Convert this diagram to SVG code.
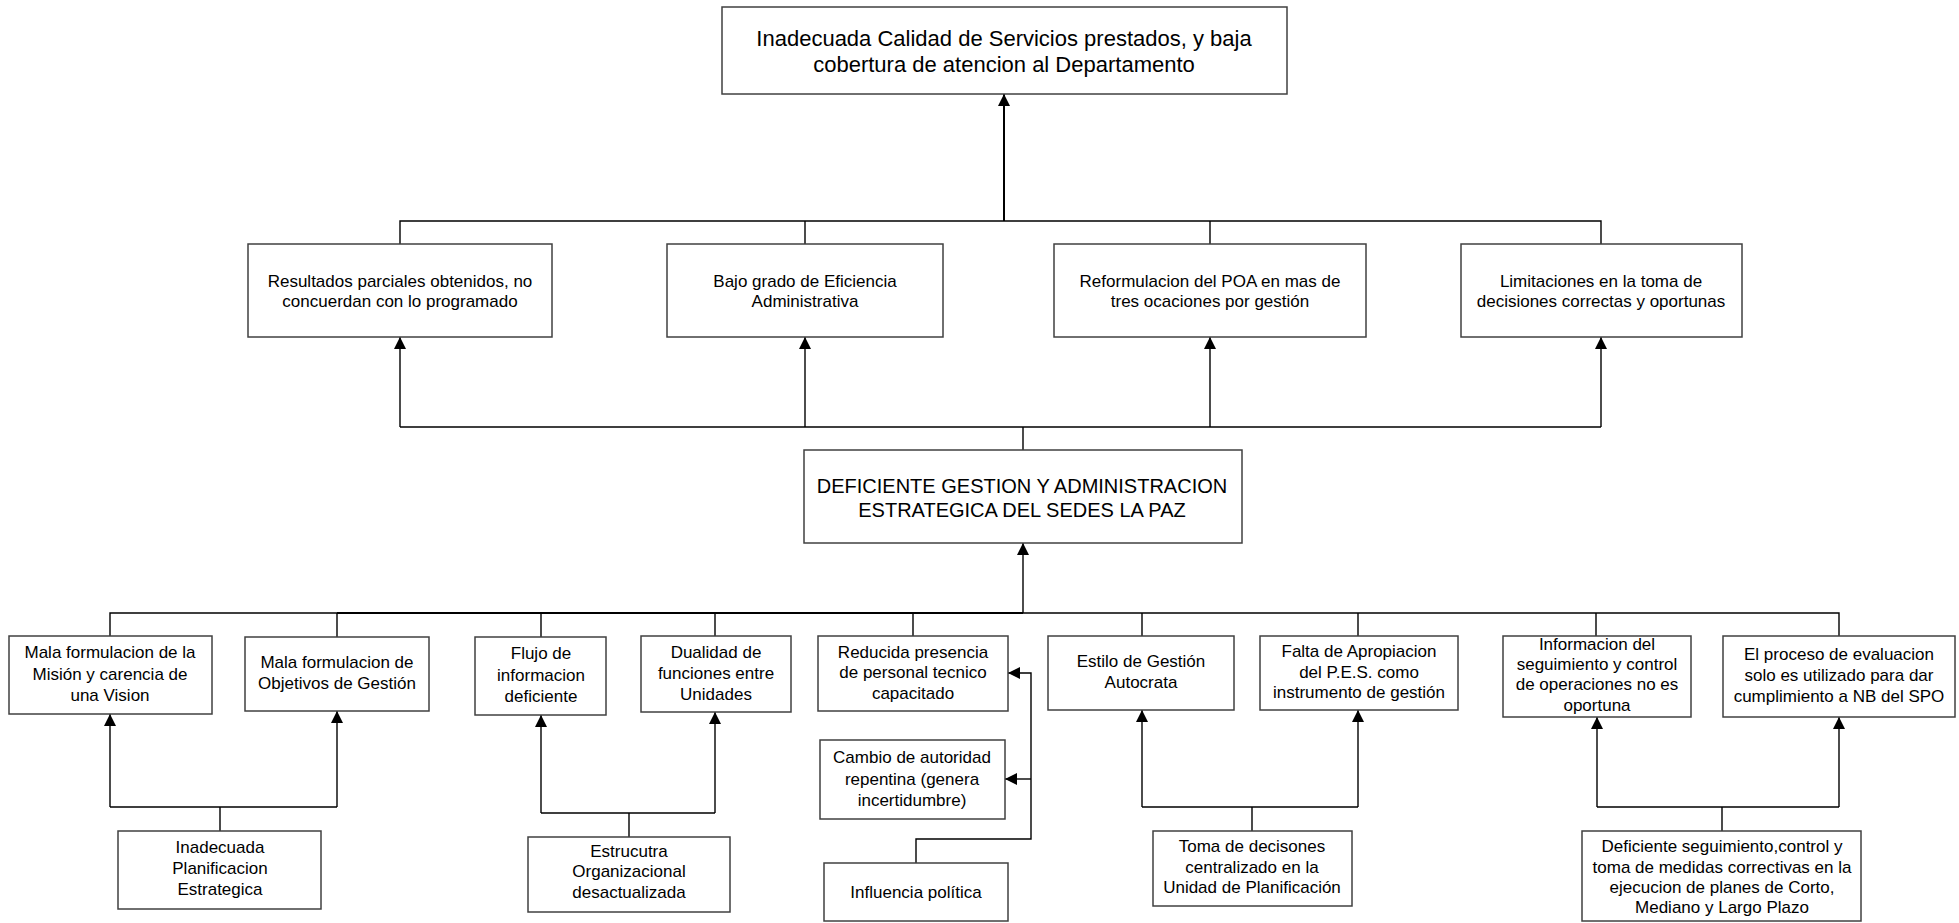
<svg xmlns="http://www.w3.org/2000/svg" width="1959" height="923" viewBox="0 0 1959 923">
<style>
.box{fill:#fff;stroke:#404040;stroke-width:1.5}
.ln{fill:none;stroke:#000;stroke-width:1.4}
.ar{fill:none;stroke:#000;stroke-width:1.4;marker-end:url(#ah)}
text{font-family:"Liberation Sans",Arial,sans-serif;fill:#000;text-anchor:middle}
.t1{font-size:22px}
.t2{font-size:20px}
.t3{font-size:17px}
</style>
<defs>
<marker id="ah" viewBox="0 0 12 12" refX="12" refY="6" markerWidth="12" markerHeight="12" markerUnits="userSpaceOnUse" orient="auto">
<path d="M0,0 L12,6 L0,12 z" fill="#000"/>
</marker>
</defs>
<rect width="1959" height="923" fill="#fff"/>
<g id="connectors">
<path class="ln" d="M400,244 V221 H1601 V244 M805,221 V244 M1210,221 V244"/>
<path class="ar" d="M1004,221 V94" style="stroke-width:2"/>
<path class="ln" d="M1023,450 V427 M400,427 H1601"/>
<path class="ar" d="M400,427 V337"/>
<path class="ar" d="M805,427 V337"/>
<path class="ar" d="M1210,427 V337"/>
<path class="ar" d="M1601,427 V337"/>
<path class="ln" d="M110,636 V613 H1839 V636 M337,613 V637 M541,613 V637 M715,613 V636 M913,613 V636 M1142,613 V636 M1358,613 V636 M1596,613 V636"/>
<path class="ln" d="M337,613 H1023" style="stroke-width:2.2"/>
<path class="ar" d="M1023,613 V543"/>
<path class="ln" d="M220,831 V807 M110,807 H337"/>
<path class="ar" d="M110,807 V714"/>
<path class="ar" d="M337,807 V711"/>
<path class="ln" d="M629,837 V813 M541,813 H715"/>
<path class="ar" d="M541,813 V715"/>
<path class="ar" d="M715,813 V712"/>
<path class="ar" d="M916,863 V839 H1031 V673 H1008"/>
<path class="ar" d="M1031,779 H1005"/>
<path class="ln" d="M1252,831 V807 M1142,807 H1358"/>
<path class="ar" d="M1142,807 V710"/>
<path class="ar" d="M1358,807 V710"/>
<path class="ln" d="M1722,831 V807 M1597,807 H1839"/>
<path class="ar" d="M1597,807 V717"/>
<path class="ar" d="M1839,807 V717"/>
</g>
<g id="n-top">
<rect class="box" x="722" y="7" width="565" height="87"/>
<text class="t1" x="1004" y="46">Inadecuada Calidad de Servicios prestados, y baja</text>
<text class="t1" x="1004" y="72">cobertura de atencion al Departamento</text>
</g>
<g id="n-resultados">
<rect class="box" x="248" y="244" width="304" height="93"/>
<text class="t3" x="400" y="287">Resultados parciales obtenidos, no</text>
<text class="t3" x="400" y="307">concuerdan con lo programado</text>
</g>
<g id="n-bajo">
<rect class="box" x="667" y="244" width="276" height="93"/>
<text class="t3" x="805" y="287">Bajo grado de Eficiencia</text>
<text class="t3" x="805" y="307">Administrativa</text>
</g>
<g id="n-reformulacion">
<rect class="box" x="1054" y="244" width="312" height="93"/>
<text class="t3" x="1210" y="287">Reformulacion del POA en mas de</text>
<text class="t3" x="1210" y="307">tres ocaciones por gestión</text>
</g>
<g id="n-limitaciones">
<rect class="box" x="1461" y="244" width="281" height="93"/>
<text class="t3" x="1601" y="287">Limitaciones en la toma de</text>
<text class="t3" x="1601" y="307">decisiones correctas y oportunas</text>
</g>
<g id="n-center">
<rect class="box" x="804" y="450" width="438" height="93"/>
<text class="t2" x="1022" y="493">DEFICIENTE GESTION Y ADMINISTRACION</text>
<text class="t2" x="1022" y="517">ESTRATEGICA DEL SEDES LA PAZ</text>
</g>
<g id="n-mision">
<rect class="box" x="9" y="636" width="203" height="78"/>
<text class="t3" x="110" y="658">Mala formulacion de la</text>
<text class="t3" x="110" y="680">Misión y carencia de</text>
<text class="t3" x="110" y="701">una Vision</text>
</g>
<g id="n-objetivos">
<rect class="box" x="245" y="637" width="184" height="74"/>
<text class="t3" x="337" y="668">Mala formulacion de</text>
<text class="t3" x="337" y="689">Objetivos de Gestión</text>
</g>
<g id="n-flujo">
<rect class="box" x="475" y="637" width="131" height="78"/>
<text class="t3" x="541" y="659">Flujo de</text>
<text class="t3" x="541" y="681">informacion</text>
<text class="t3" x="541" y="702">deficiente</text>
</g>
<g id="n-dualidad">
<rect class="box" x="641" y="636" width="150" height="76"/>
<text class="t3" x="716" y="658">Dualidad de</text>
<text class="t3" x="716" y="679">funciones entre</text>
<text class="t3" x="716" y="700">Unidades</text>
</g>
<g id="n-reducida">
<rect class="box" x="818" y="636" width="190" height="75"/>
<text class="t3" x="913" y="658">Reducida presencia</text>
<text class="t3" x="913" y="678">de personal tecnico</text>
<text class="t3" x="913" y="699">capacitado</text>
</g>
<g id="n-estilo">
<rect class="box" x="1048" y="636" width="186" height="74"/>
<text class="t3" x="1141" y="667">Estilo de Gestión</text>
<text class="t3" x="1141" y="688">Autocrata</text>
</g>
<g id="n-falta">
<rect class="box" x="1260" y="636" width="198" height="74"/>
<text class="t3" x="1359" y="657">Falta de Apropiacion</text>
<text class="t3" x="1359" y="678">del P.E.S. como</text>
<text class="t3" x="1359" y="698">instrumento de gestión</text>
</g>
<g id="n-informacion">
<rect class="box" x="1503" y="636" width="188" height="81"/>
<text class="t3" x="1597" y="650">Informacion del</text>
<text class="t3" x="1597" y="670">seguimiento y control</text>
<text class="t3" x="1597" y="690">de operaciones no es</text>
<text class="t3" x="1597" y="711">oportuna</text>
</g>
<g id="n-evaluacion">
<rect class="box" x="1723" y="636" width="232" height="81"/>
<text class="t3" x="1839" y="660">El proceso de evaluacion</text>
<text class="t3" x="1839" y="681">solo es utilizado para dar</text>
<text class="t3" x="1839" y="702">cumplimiento a NB del SPO</text>
</g>
<g id="n-planificacion">
<rect class="box" x="118" y="831" width="203" height="78"/>
<text class="t3" x="220" y="853">Inadecuada</text>
<text class="t3" x="220" y="874">Planificacion</text>
<text class="t3" x="220" y="895">Estrategica</text>
</g>
<g id="n-estructura">
<rect class="box" x="528" y="837" width="202" height="75"/>
<text class="t3" x="629" y="857">Estrucutra</text>
<text class="t3" x="629" y="877">Organizacional</text>
<text class="t3" x="629" y="898">desactualizada</text>
</g>
<g id="n-cambio">
<rect class="box" x="820" y="740" width="185" height="79"/>
<text class="t3" x="912" y="763">Cambio de autoridad</text>
<text class="t3" x="912" y="785">repentina (genera</text>
<text class="t3" x="912" y="806">incertidumbre)</text>
</g>
<g id="n-influencia">
<rect class="box" x="824" y="863" width="184" height="58"/>
<text class="t3" x="916" y="898">Influencia política</text>
</g>
<g id="n-toma">
<rect class="box" x="1153" y="831" width="199" height="75"/>
<text class="t3" x="1252" y="852">Toma de decisones</text>
<text class="t3" x="1252" y="873">centralizado en la</text>
<text class="t3" x="1252" y="893">Unidad de Planificación</text>
</g>
<g id="n-deficiente">
<rect class="box" x="1582" y="831" width="279" height="90"/>
<text class="t3" x="1722" y="852">Deficiente seguimiento,control y</text>
<text class="t3" x="1722" y="873">toma de medidas correctivas en la</text>
<text class="t3" x="1722" y="893">ejecucion de planes de Corto,</text>
<text class="t3" x="1722" y="913">Mediano y Largo Plazo</text>
</g>
</svg>
